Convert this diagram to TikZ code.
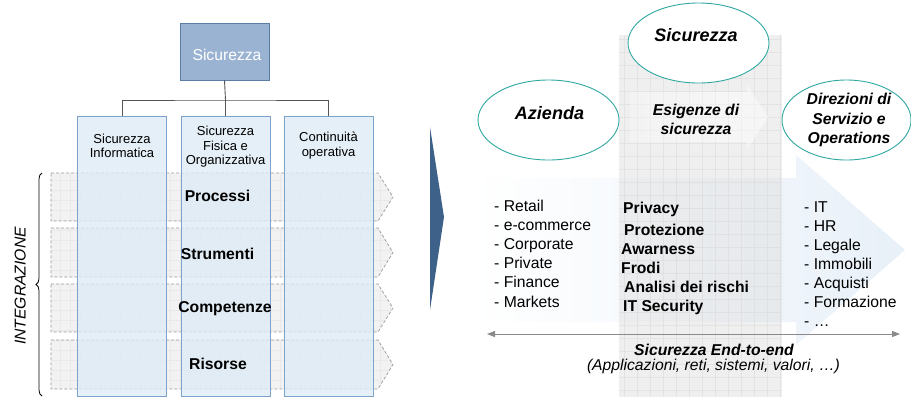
\documentclass[tikz,border=0pt]{standalone}
\usepackage{fontspec}
\setmainfont{Liberation Sans}
\usetikzlibrary{arrows.meta,decorations.pathreplacing,shapes.geometric}
\definecolor{colfill}{HTML}{DDEBF5}
\definecolor{colborder}{HTML}{7BA3CB}
\definecolor{rowfill}{HTML}{F2F2F2}
\definecolor{rowgrid}{HTML}{E9E9E9}
\definecolor{rowborder}{HTML}{9A9A9A}
\definecolor{topfill}{HTML}{9BB3D2}
\definecolor{topborder}{HTML}{5B7DA6}
\definecolor{teal}{HTML}{2FA8A2}
\definecolor{darkblue}{HTML}{3E618A}
\definecolor{rectgray}{HTML}{E0E0E0}
\definecolor{rectgrid}{HTML}{D4D4D4}
\definecolor{arrowblue}{HTML}{E8F0F8}
\definecolor{linegray}{HTML}{555555}
\definecolor{arrgray}{HTML}{8A8A8A}
\begin{document}
\begin{tikzpicture}[x=1pt,y=-1pt,
  txt/.style={inner sep=0pt, font=\fontsize{15.7pt}{19pt}\selectfont},
  btxt/.style={txt, font=\fontsize{15.7pt}{19pt}\selectfont\bfseries},
  bitxt/.style={txt, font=\fontsize{15.7pt}{19.5pt}\selectfont\bfseries\itshape, align=center},
  bigtxt/.style={txt, font=\fontsize{18pt}{21pt}\selectfont\bfseries\itshape},
  coltxt/.style={inner sep=0pt, align=center, font=\fontsize{13pt}{14.6pt}\selectfont},
  colbox/.style={draw=colborder, fill=colfill, fill opacity=0.8, line width=0.9pt, minimum width=89pt, minimum height=280pt, inner sep=0pt},
  topbox/.style={draw=topborder, fill=topfill, line width=0.9pt, minimum width=89pt, minimum height=57pt, inner sep=0pt},
  conn/.style={draw=linegray, line width=0.9pt},
  rowedge/.style={draw=rowborder, dash pattern=on 3pt off 2pt, line width=0.7pt},
  ell/.style={ellipse, draw=teal, fill=white, line width=0.9pt, inner sep=0pt, minimum width=141pt, minimum height=80pt}
]
\useasboundingbox (0,0) rectangle (911,397);

% ---------------- left: rows (chevrons) ----------------
\foreach \t/\b in {173/221, 228/277, 284/332, 340/389} {
  \begin{scope}
    \path[clip] (51,\t) -- (378,\t) -- (393,{(\t+\b)/2}) -- (378,\b) -- (51,\b) -- cycle;
    \fill[rowfill] (51,\b) rectangle (393,\t);
    \draw[rowgrid, line width=0.4pt, step=10pt] (51,\b) grid (393,\t);
  \end{scope}
  \draw[rowedge] (51,\t) -- (378,\t) -- (393,{(\t+\b)/2}) -- (378,\b) -- (51,\b) -- cycle;
}

% ---------------- left: columns ----------------
\node[colbox] (c1) at (122,256.5) {};
\node[colbox] (c2) at (225.5,256.5) {};
\node[colbox] (c3) at (328.5,256.5) {};

\node[coltxt] (t1) at (122,146) {Sicurezza\\Informatica};
\node[coltxt] (t2) at (225.5,147) {Sicurezza\\Fisica e\\Organizzativa};
\node[coltxt] (t3) at (328.5,145.5) {Continuità\\operativa};

% ---------------- left: top box + connectors ----------------
\node[topbox] (top) at (224.5,51.5) {};
\node[txt, text=white, anchor=base] (toptxt) at (227,60) {Sicurezza};
\coordinate (j) at (225.5,100);
\draw[conn] (top.south) -- (j);
\draw[conn] (c1.north) |- (j) -| (c3.north);
\draw[conn] (j) -- (c2.north);

% ---------------- left: row labels ----------------
\node[btxt, anchor=base] (r1) at (217.5,201) {Processi};
\node[btxt, anchor=base] (r2) at (217.5,259) {Strumenti};
\node[btxt, anchor=base] (r3) at (225,312) {Competenze};
\node[btxt, anchor=base] (r4) at (218,369) {Risorse};

% ---------------- left: brace + INTEGRAZIONE ----------------
\draw[line width=0.8pt, decorate, decoration={brace, amplitude=6pt}] (42,396) -- (42,173);
\node[txt, font=\fontsize{15.7pt}{19pt}\selectfont\itshape, rotate=90, anchor=base] (integ) at (25.5,286) {INTEGRAZIONE};

% ---------------- separator chevron ----------------
\fill[darkblue] (430,127) -- (444,217) -- (430,310) -- cycle;

% ---------------- right: big light arrow ----------------
\shade[left color=white, right color=arrowblue]
  (470,178) -- (796,178) -- (796,155) -- (905,250) -- (796,345) -- (796,322) -- (470,322) -- cycle;

% gray grid band
\fill[rectgray, fill opacity=0.5] (619,35) rectangle (782,397);
\begin{scope}
  \clip (619,397) rectangle (782,35);
  \draw[rectgrid, opacity=0.45, line width=0.4pt, step=13pt] (619,397) grid (782,35);
\end{scope}

% faint arrow behind "Esigenze di sicurezza"
\shade[left color=rectgray!20, right color=white, opacity=0.45]
  (630,92) -- (747,92) -- (747,85) -- (768,117) -- (747,150) -- (747,142) -- (630,142) -- cycle;

% ellipses
\node[ell] (esic) at (698.5,43) {};
\node[ell] (eaz) at (548.5,120) {};
\node[ell, minimum width=129pt] (edir) at (846.5,120) {};

\node[bigtxt, anchor=base] (sictxt) at (696,41) {Sicurezza};
\node[bigtxt, anchor=base] (aztxt) at (549.5,119) {Azienda};
\node[bitxt] (esig) at (696,119.5) {Esigenze di\\sicurezza};
\node[bitxt] (dirtxt) at (849,120) {Direzioni di\\Servizio e\\Operations};

% lists
\foreach \s [count=\i from 0] in {- Retail, - e-commerce, - Corporate, - Private, - Finance, - Markets}
  \node[txt, anchor=base west] (la\i) at (494,{211+19.2*\i}) {\s};

\node[btxt, anchor=base west] (m1) at (623,213) {Privacy};
\node[btxt, anchor=base west] (m2) at (624,235) {Protezione};
\node[btxt, anchor=base west] (m3) at (621,254) {Awarness};
\node[btxt, anchor=base west] (m4) at (621,273) {Frodi};
\node[btxt, anchor=base west] (m5) at (624,292) {Analisi dei rischi};
\node[btxt, anchor=base west] (m6) at (623,311) {IT Security};

\foreach \s [count=\i from 0] in {- IT, - HR, - Legale, - Immobili, - Acquisti, - Formazione, - \dots}
  \node[txt, anchor=base west] (lb\i) at (804,{212+19*\i}) {\s};

% end-to-end arrow
\coordinate (eL) at (487,334);
\coordinate (eR) at (900,334);
\draw[arrgray, line width=1pt, {Triangle[length=8pt,width=6pt]}-{Triangle[length=8pt,width=6pt]}] (eL) -- (eR);

\node[txt, font=\fontsize{15.7pt}{19pt}\selectfont\bfseries\itshape, anchor=base] (e2e) at (714,355) {Sicurezza End-to-end};
\node[txt, font=\fontsize{15.7pt}{19pt}\selectfont\itshape, anchor=base] (e2e2) at (713.5,370) {(Applicazioni, reti, sistemi, valori, …)};
\end{tikzpicture}
\end{document}
